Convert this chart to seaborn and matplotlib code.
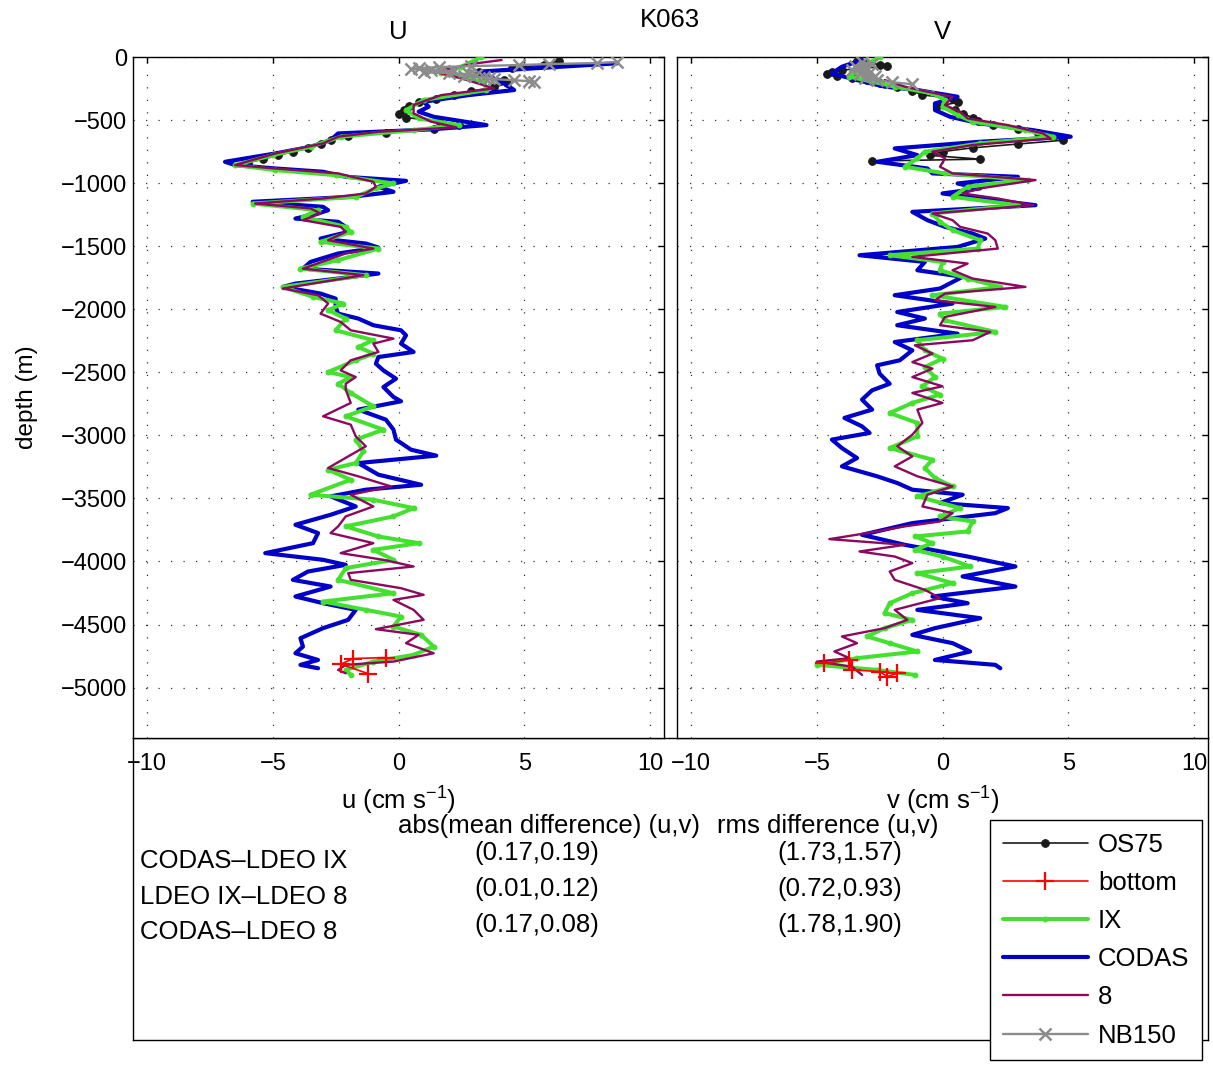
import matplotlib
matplotlib.use("Agg")
import matplotlib.pyplot as plt
import seaborn as sns

# ---------------- U component (depth m, cm/s) ----------------
codas_u_z = [-50, -116, -209, -262, -302, -355, -394, -434, -474, -540, -574, -606, -659, -712,
             -765, -831, -857, -884, -910, -950, -982, -1029, -1069, -1109, -1148, -1188, -1215,
             -1241, -1281, -1307, -1347, -1387, -1440, -1479, -1511, -1558, -1625, -1678, -1717,
             -1757, -1797, -1823, -1876, -1916, -1982, -2035, -2074, -2127, -2167, -2207, -2273,
             -2339, -2379, -2432, -2485, -2551, -2617, -2696, -2730, -2796, -2876, -2955, -3034,
             -3114, -3161, -3220, -3312, -3392, -3431, -3484, -3564, -3630, -3709, -3775, -3855,
             -3934, -3987, -4027, -4080, -4146, -4199, -4278, -4331, -4384, -4463, -4529, -4609,
             -4675, -4728, -4781, -4820, -4847]
codas_u = [8.7, 3.2, 4.2, 4.6, 2.8, 1.0, 1.2, 0.8, 1.4, 3.5, 1.3, -2.4, -2.7, -3.5,
           -4.9, -6.9, -6.5, -4.9, -3.0, -2.1, 0.3, -0.8, -0.2, -1.9, -5.8, -3.0, -2.8,
           -3.2, -4.1, -2.4, -2.1, -2.0, -3.1, -1.3, -0.8, -2.4, -3.5, -3.8, -0.8,
           -2.4, -4.1, -4.6, -3.1, -2.5, -2.5, -2.4, -1.6, -1.0, 0.1, 0.3, 0.1,
           0.6, -0.8, -0.9, -0.6, -0.1, -0.6, -0.2, 0.1, -1.6, -0.5, -0.2, -0.1,
           0.5, 1.5, -1.6, -0.8, 0.9, -1.3, -2.7, -1.7, -2.7, -4.1, -3.2, -3.4,
           -5.3, -3.0, -2.1, -3.6, -4.2, -2.7, -4.1, -3.0, -1.7, -2.0, -3.0, -3.9,
           -3.8, -4.1, -3.2, -3.9, -3.2]

ldeo8_u_z = [-24, -50, -116, -169, -249, -302, -381, -447, -513, -558, -593, -632, -685, -765,
             -857, -884, -923, -990, -1029, -1082, -1122, -1162, -1201, -1241, -1294, -1347,
             -1387, -1453, -1519, -1558, -1678, -1730, -1836, -1889, -1955, -2035, -2101, -2167,
             -2233, -2273, -2339, -2405, -2485, -2538, -2591, -2637, -2743, -2849, -2915, -3008,
             -3087, -3167, -3259, -3325, -3405, -3471, -3564, -3643, -3722, -3775, -3855, -3934,
             -3987, -4040, -4093, -4146, -4212, -4265, -4305, -4384, -4463, -4537, -4582, -4648,
             -4728, -4794, -4820, -4860, -4887]
ldeo8_u = [4.1, 3.1, 1.4, 2.5, 3.8, 1.7, 0.6, 0.6, 1.3, 2.3, -0.8, -2.4, -3.0, -4.9,
           -6.5, -4.9, -2.4, -1.0, -0.9, -1.3, -3.0, -5.7, -3.5, -3.1, -3.8, -2.3,
           -2.1, -2.8, -1.0, -2.1, -3.8, -1.4, -4.6, -3.2, -2.8, -3.1, -2.3, -1.9,
           -0.2, -1.0, -0.8, -1.9, -2.3, -1.7, -2.1, -2.1, -1.9, -3.0, -1.9, -1.7,
           -1.3, -2.0, -2.8, -1.6, -0.3, -1.9, -1.0, -2.1, -2.4, -2.7, -1.0, -2.3,
           -0.6, 0.6, -2.0, -1.9, 0.1, 1.0, -0.2, 0.6, 1.0, -0.9, 0.8, 0.3,
           1.4, -0.2, -2.1, -2.4, -2.1]

ix_u_z = [0, -77, -130, -196, -262, -341, -421, -487, -540, -580, -632, -712, -778, -857,
          -897, -937, -1003, -1042, -1109, -1162, -1215, -1267, -1347, -1387, -1466, -1519,
          -1611, -1678, -1730, -1823, -1902, -1955, -2008, -2074, -2167, -2246, -2299, -2352,
          -2405, -2498, -2538, -2591, -2664, -2770, -2849, -2955, -3034, -3127, -3220, -3273,
          -3352, -3471, -3511, -3577, -3643, -3722, -3802, -3855, -3908, -3987, -4053, -4146,
          -4252, -4318, -4384, -4437, -4516, -4582, -4675, -4741, -4794, -4860, -4900]
ix_u = [3.3, 2.5, 1.7, 3.4, 3.5, 1.0, 0.3, 0.8, 2.4, 0.6, -2.3, -3.5, -5.0, -6.5,
        -4.9, -2.5, -0.2, -0.9, -1.7, -5.8, -3.2, -3.8, -2.1, -1.9, -3.1, -0.8,
        -2.4, -3.9, -1.3, -4.6, -3.4, -2.2, -2.8, -2.1, -2.5, -1.0, -1.6, -1.0,
        -1.7, -2.8, -1.9, -2.4, -1.9, -1.0, -2.1, -0.6, -1.7, -1.4, -1.7, -2.8,
        -1.9, -3.5, -1.0, 0.6, -0.2, -2.1, -0.8, 0.8, -1.0, -0.2, -2.1, -2.4,
        -0.2, -3.0, -1.3, 0.1, -0.2, 0.9, 1.4, 0.6, -1.0, -2.1, -1.9]

os75_u_z = [-30, -60, -90, -120, -150, -180, -210, -240, -270, -300, -330, -360, -390, -420,
            -450, -480, -510, -540, -570, -600, -630, -660, -690, -720, -750, -780, -810, -840]
os75_u = [6.4, 5.8, 4.5, 3.2, 3.5, 4.2, 4.3, 3.8, 2.9, 2.2, 1.5, 0.8, 0.4, 0.2,
          0.0, 0.3, 1.6, 2.4, 1.4, -0.5, -2.0, -2.7, -3.1, -3.6, -4.2, -4.8, -5.4, -6.0]

nb150_u_z = [-40, -48, -56, -64, -72, -80, -88, -96, -104, -112, -120, -128, -136, -144,
             -152, -160, -168, -176, -184, -192, -200]
nb150_u = [8.7, 7.9, 6.0, 4.8, 2.9, 1.6, 0.8, 0.5, 1.3, 2.2, 1.0, 2.0, 2.8, 3.1,
           2.6, 3.4, 3.6, 3.8, 4.6, 5.2, 5.4]

bottom_u_z = [-4762, -4770, -4815, -4890]
bottom_u = [-0.5, -1.8, -2.3, -1.2]

# ---------------- V component ----------------
codas_v_z = [-24, -77, -130, -183, -235, -262, -315, -368, -421, -474, -527, -580, -632, -672,
             -725, -778, -831, -884, -923, -950, -1003, -1042, -1082, -1122, -1175, -1228,
             -1294, -1347, -1400, -1440, -1506, -1572, -1625, -1691, -1743, -1836, -1889,
             -1955, -2022, -2074, -2127, -2194, -2260, -2326, -2405, -2445, -2511, -2591,
             -2643, -2717, -2796, -2862, -2929, -2981, -3034, -3101, -3180, -3246, -3325,
             -3378, -3431, -3471, -3537, -3577, -3617, -3696, -3789, -3868, -3961, -4040,
             -4119, -4199, -4278, -4331, -4384, -4450, -4529, -4582, -4648, -4714, -4781,
             -4820, -4847]
codas_v = [-3.2, -4.0, -4.4, -3.4, -2.3, -1.0, 0.6, -0.3, -0.3, 0.3, 1.5, 3.6, 5.1, 1.5,
           -1.9, -1.0, -2.6, -0.6, -0.4, 3.0, 0.6, 1.5, 0.0, 1.5, 3.7, -1.2,
           -0.6, 0.1, 1.2, 1.7, 0.6, -3.3, -0.7, -1.0, 0.8, -0.1, -1.9,
           0.4, -1.8, -0.7, -1.8, 0.6, -1.9, -1.2, -1.7, -2.6, -2.5, -2.1,
           -2.8, -3.2, -2.8, -3.9, -3.2, -2.9, -4.4, -4.0, -3.4, -4.0, -2.6,
           -1.8, -1.2, 0.8, -0.1, 2.6, 2.1, -1.2, -3.2, -1.5, 1.0, 2.9,
           0.8, 2.9, -0.4, 1.0, -1.0, 1.5, -0.3, -1.2, 0.4, 1.1, -0.3,
           2.1, 2.3]

ldeo8_v_z = [-183, -235, -275, -315, -381, -434, -487, -540, -606, -646, -698, -751, -804, -870,
             -923, -976, -1042, -1082, -1122, -1175, -1241, -1294, -1347, -1400, -1453, -1519,
             -1585, -1638, -1691, -1757, -1823, -1876, -1929, -1982, -2061, -2127, -2180,
             -2246, -2286, -2352, -2419, -2471, -2538, -2611, -2664, -2743, -2796, -2902,
             -2995, -3087, -3167, -3246, -3325, -3405, -3471, -3564, -3617, -3683, -3722,
             -3775, -3823, -3868, -3921, -3961, -4013, -4080, -4146, -4225, -4291, -4384,
             -4463, -4529, -4595, -4648, -4714, -4767, -4794, -4834, -4900]
ldeo8_v = [-2.3, -1.5, -0.6, 0.4, 0.1, 0.7, 1.0, 2.6, 4.0, 4.3, 1.2, -0.4, 0.1, -0.1,
           0.4, 3.7, 1.5, 0.8, 2.2, 3.6, -0.4, 0.4, 0.7, 1.8, 2.1, 2.2,
           -1.2, 1.0, 0.4, 1.2, 3.3, 0.1, -0.3, 2.1, 0.1, -0.1, 1.9,
           1.2, -1.1, -0.4, -1.2, -0.4, -1.2, 0.0, -1.2, 0.0, -1.0, -0.8,
           -1.2, -1.8, -1.2, -1.9, -1.0, 0.4, -0.6, -0.8, 0.4, -0.1, -1.5,
           -3.0, -4.5, -1.5, -3.3, -1.9, -1.2, -2.1, -1.9, -0.7, -0.1, -1.9,
           -1.4, -2.3, -4.0, -3.4, -4.3, -3.7, -5.0, -3.6, -3.2]

ix_v_z = [0, -77, -156, -235, -288, -341, -394, -460, -513, -580, -632, -685, -751, -804,
          -870, -923, -976, -1029, -1109, -1175, -1241, -1307, -1373, -1453, -1519, -1572,
          -1625, -1691, -1757, -1823, -1889, -1982, -2035, -2088, -2180, -2246, -2326,
          -2392, -2458, -2538, -2611, -2677, -2743, -2823, -2902, -3008, -3101, -3193,
          -3259, -3339, -3405, -3484, -3577, -3643, -3683, -3762, -3802, -3855, -3908,
          -3961, -4040, -4093, -4172, -4252, -4331, -4410, -4463, -4529, -4595, -4648,
          -4714, -4767, -4820, -4860, -4900]
ix_v = [-2.5, -3.2, -3.7, -1.9, -0.4, 0.1, 0.0, 0.6, 1.2, 3.3, 4.4, 1.5, -0.7, -1.0,
        -1.5, 0.1, 3.4, 1.0, 0.4, 3.0, -0.4, -0.1, 0.4, 1.5, 1.4, -2.1,
        0.0, -0.1, 1.0, 2.3, -0.4, 2.5, -0.1, 0.1, 2.1, -1.0, -0.7,
        0.0, -0.7, -0.3, -0.8, -0.1, -1.2, -2.1, -1.0, -1.0, -2.1, -0.4,
        -0.7, -0.3, 0.4, -1.0, 0.7, -0.1, 1.2, 1.0, -1.1, -0.4, -1.1,
        0.0, 1.1, -1.0, 0.4, -1.2, -2.1, -2.3, -1.2, -2.3, -3.0, -2.1,
        -1.0, -3.4, -5.0, -2.6, -1.1]

os75_v_z = [-30, -45, -60, -75, -90, -105, -120, -135, -150, -165, -180, -210, -240, -270,
            -300, -330, -360, -390, -420, -450, -480, -510, -540, -570, -600, -630, -660,
            -690, -720, -750, -780, -810, -825]
os75_v = [-3.4, -3.0, -2.5, -2.2, -3.3, -4.0, -4.4, -4.6, -4.2, -3.6, -3.0, -2.5, -1.8, -1.2,
          -0.8, 0.4, 0.6, -0.2, 0.5, 0.8, 1.2, 1.4, 2.0, 3.0, 3.8, 4.4, 4.8,
          3.0, 1.2, 0.0, -0.5, 1.5, -2.8]

nb150_v_z = [-40, -56, -72, -88, -104, -120, -136, -152, -168, -184, -200, -216]
nb150_v = [-3.2, -2.8, -3.5, -3.0, -3.6, -2.9, -3.3, -2.7, -3.1, -2.6, -2.0, -1.2]

bottom_v_z = [-4807, -4781, -4860, -4873, -4913, -4887]
bottom_v = [-4.7, -3.7, -3.6, -2.5, -2.2, -1.8]

# ---------------- statistics table ----------------
pair_labels = ["CODAS\u2013LDEO IX", "LDEO IX\u2013LDEO 8", "CODAS\u2013LDEO 8"]
mean_diff = ["(0.17,0.19)", "(0.01,0.12)", "(0.17,0.08)"]
rms_diff = ["(1.73,1.57)", "(0.72,0.93)", "(1.78,1.90)"]

W, H = 1213, 1070
FS_TICK = 17
FS = 18.5

sns.set_theme(style="white", rc={
    "axes.edgecolor": "black",
    "axes.linewidth": 1.0,
    "xtick.direction": "in",
    "ytick.direction": "in",
    "xtick.major.size": 4,
    "ytick.major.size": 4,
    "xtick.color": "black",
    "ytick.color": "black",
    "text.color": "black",
    "axes.labelcolor": "black",
    "mathtext.fontset": "custom",
    "mathtext.rm": "Liberation Sans",
    "mathtext.it": "Liberation Sans:italic",
})
plt.rcParams["font.family"] = ["Liberation Sans", "DejaVu Sans"]


def px(x, y):
    return x / W, 1 - y / H


styles = {
    "OS75": dict(color="#1a1a1a", lw=1.2, marker=".", ms=11, mec="#1a1a1a", mfc="#1a1a1a", zorder=3),
    "bottom": dict(color="red", lw=1.2, marker="+", ms=13, mec="red", mew=1.6, zorder=7),
    "IX": dict(color="#44e030", lw=2.9, marker=".", ms=7, mec="#44e030", mfc="#44e030", zorder=5),
    "CODAS": dict(color="#0000c8", lw=3.0, zorder=4),
    "8": dict(color="#8b0a5f", lw=1.7, zorder=6),
    "NB150": dict(color="#8c8c8c", lw=1.7, marker="x", ms=9, mec="#8c8c8c", mew=1.8, zorder=8),
}

fig = plt.figure(figsize=(W / 100, H / 100), dpi=100)
ax_u = fig.add_axes([133 / W, 1 - 738 / H, 531 / W, 681 / H])
ax_v = fig.add_axes([677 / W, 1 - 738 / H, 531 / W, 681 / H])
ax_t = fig.add_axes([133 / W, 1 - 1040 / H, 1075 / W, 302 / H], zorder=-1)

u_series = [("OS75", os75_u, os75_u_z), ("bottom", bottom_u, bottom_u_z), ("IX", ix_u, ix_u_z),
            ("CODAS", codas_u, codas_u_z), ("8", ldeo8_u, ldeo8_u_z), ("NB150", nb150_u, nb150_u_z)]
v_series = [("OS75", os75_v, os75_v_z), ("bottom", bottom_v, bottom_v_z), ("IX", ix_v, ix_v_z),
            ("CODAS", codas_v, codas_v_z), ("8", ldeo8_v, ldeo8_v_z), ("NB150", nb150_v, nb150_v_z)]

for ax, series in [(ax_u, u_series), (ax_v, v_series)]:
    for name, vals, z in series:
        sns.lineplot(x=vals, y=z, sort=False, estimator=None, ax=ax, legend=False,
                     label=name, **styles[name])
    ax.set_xlim(-10.56, 10.56)
    ax.set_ylim(-5400, 0)
    ax.set_xticks([-10, -5, 0, 5, 10])
    ax.set_yticks(range(-5000, 1, 500))
    ax.grid(True, color="0.2", lw=0.9, ls=(0, (1, 9)))
    ax.tick_params(top=True, right=True, labelsize=FS_TICK, pad=11, width=1.0)
    ax.tick_params(axis="y", pad=4)

ax_v.tick_params(labelleft=False)
ax_u.set_ylabel("depth (m)", fontsize=FS_TICK + 0.5, labelpad=17)
ax_u.set_xlabel("u (cm s$^{-1}$)", fontsize=FS, labelpad=7)
ax_v.set_xlabel("v (cm s$^{-1}$)", fontsize=FS, labelpad=7)
ax_u.set_title("U", fontsize=FS, pad=13)
ax_v.set_title("V", fontsize=FS, pad=13)
fig.text(*px(670, 20), "K063", fontsize=FS, ha="center", va="center")

ax_t.set_xticks([])
ax_t.set_yticks([])
ax_t.set_facecolor("none")

fig.text(*px(398, 826), "abs(mean difference) (u,v)", fontsize=FS, ha="left", va="center")
fig.text(*px(717, 826), "rms difference (u,v)", fontsize=FS, ha="left", va="center")
for i, (lab, m, r) in enumerate(zip(pair_labels, mean_diff, rms_diff)):
    fig.text(*px(140, 861 + 35.5 * i), lab, fontsize=FS, ha="left", va="center")
    fig.text(*px(537, 853 + 36 * i), m, fontsize=FS, ha="center", va="center")
    fig.text(*px(840, 853 + 36 * i), r, fontsize=FS, ha="center", va="center")

handles, labels = ax_u.get_legend_handles_labels()
leg = fig.legend(handles, labels, loc="upper left", bbox_to_anchor=px(990, 820),
                 frameon=True, fancybox=False, edgecolor="black", framealpha=1,
                 fontsize=FS, numpoints=1, handlelength=3.3, handletextpad=0.4,
                 labelspacing=0.55, borderpad=0.5, borderaxespad=0)
leg.get_frame().set_linewidth(1.0)

fig.savefig("out.png", dpi=100)
